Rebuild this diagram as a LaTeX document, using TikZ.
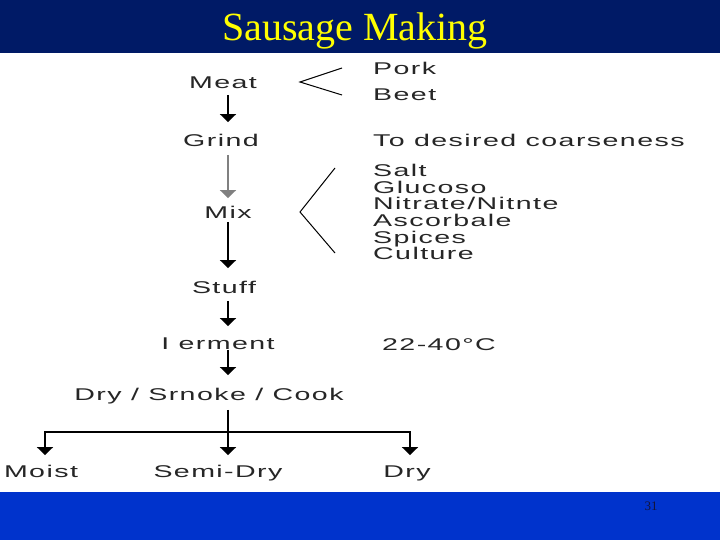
\documentclass[tikz,border=0pt]{standalone}
\usepackage{fontspec}
\setmainfont{Liberation Serif}
\newfontfamily\arialf[LetterSpace=5]{Liberation Sans}
\usetikzlibrary{arrows.meta}
\definecolor{navy}{RGB}{0,26,102}
\definecolor{bblue}{RGB}{0,51,204}
\definecolor{titley}{RGB}{255,255,0}
\definecolor{numc}{RGB}{20,20,60}
\newcommand\sw[1]{\scalebox{1.68}[1]{#1}}
\begin{document}
\begin{tikzpicture}[x=1pt,y=-1pt,
  lbl/.style={font=\arialf\fontsize{17}{17}\selectfont, inner sep=0pt, text=black!85, text height=12pt, text depth=3.5pt},
  arr/.style={line width=2pt, -{Triangle[width=16pt,length=8pt]}},
  line/.style={line width=2pt},
  brk/.style={line width=1pt}]
\useasboundingbox (0,0) rectangle (720,540);
\fill[navy] (0,0) rectangle (720,53);
\fill[white] (0,53) rectangle (720,492);
\fill[bblue] (0,492) rectangle (720,540);
\node[font=\fontsize{40}{40}\selectfont, text=titley, inner sep=0pt] (title) at (355,31) {Sausage Making};
\node[font=\fontsize{13}{13}\selectfont, text=numc, inner sep=0pt] (num) at (651,506) {31};

% main column
\node[lbl] (meat)  at (223,84)  {\sw{Meat}};
\node[lbl] (grind) at (221,142) {\sw{Grind}};
\node[lbl] (mix)   at (228,214) {\sw{Mix}};
\node[lbl] (stuff) at (224,289) {\sw{Stuff}};
\node[lbl] (ferm)  at (218,345) {\sw{I erment}};
\node[lbl] (dsc)   at (209,396) {\sw{Dry / Srnoke / Cook}};
\node[lbl] (moist) at (41,473)  {\sw{Moist}};
\node[lbl] (semi)  at (218,473) {\sw{Semi-Dry}};
\node[lbl] (dry)   at (407,473) {\sw{Dry}};

% right column
\node[lbl, anchor=west] (pork)   at (373,70)  {\sw{Pork}};
\node[lbl, anchor=west] (beet)   at (373,96)  {\sw{Beet}};
\node[lbl, anchor=west] (coarse) at (373,142) {\sw{To desired coarseness}};
\node[lbl, anchor=west] (s1) at (373,172) {\sw{Salt}};
\node[lbl, anchor=west] (s2) at (373,189) {\sw{Glucoso}};
\node[lbl, anchor=west] (s3) at (373,205) {\sw{Nitrate/Nitnte}};
\node[lbl, anchor=west] (s4) at (373,222) {\sw{Ascorbale}};
\node[lbl, anchor=west] (s5) at (373,239) {\sw{Spices}};
\node[lbl, anchor=west] (s6) at (373,255) {\sw{Culture}};
\node[lbl, anchor=west] (temp) at (382,346) {\sw{22-40°C}};

% brackets
\draw[brk] (342,68) -- (300,82) -- (342,95);
\draw[brk] (335,168) -- (300,212) -- (335,253);

% arrows
\coordinate (mx) at (228,0);
\draw[arr, shorten <=3pt, shorten >=12pt] (meat.south -| mx) -- (grind.north -| mx);
\draw[arr, gray, shorten <=5pt, shorten >=8pt] (grind.south -| mx) -- (mix.north -| mx);
\draw[arr, shorten >=13pt] (mix.south -| mx) -- (stuff.north -| mx);
\draw[arr, shorten <=4pt, shorten >=11pt] (stuff.south -| mx) -- (ferm.north -| mx);
\draw[arr, shorten <=-3pt, shorten >=13pt] (ferm.south -| mx) -- (dsc.north -| mx);
\coordinate (jl) at (45,432);
\coordinate (jm) at (228,432);
\coordinate (jr) at (410,432);
\draw[line, shorten <=6pt] (dsc.south -| mx) -- (jm);
\draw[line, line cap=rect] (jl) -- (jr);
\draw[arr, shorten >=10pt] (jl) -- (moist.north -| jl);
\draw[arr, shorten >=10pt] (jm) -- (semi.north -| jm);
\draw[arr, shorten >=10pt] (jr) -- (dry.north -| jr);
\end{tikzpicture}
\end{document}
